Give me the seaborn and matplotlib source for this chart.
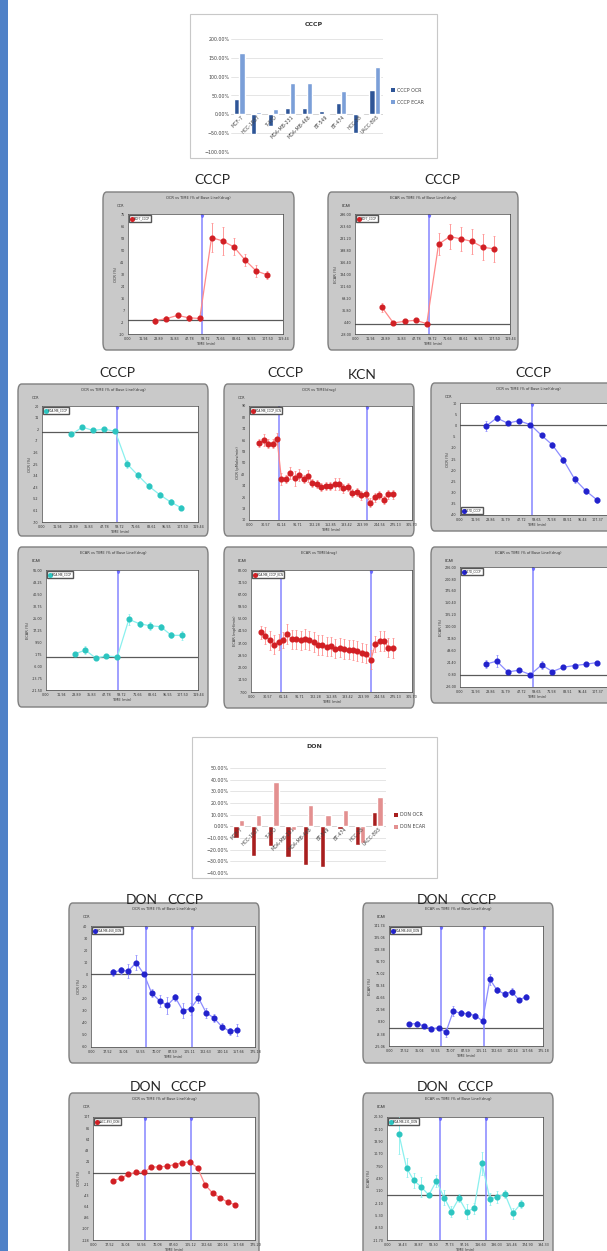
import numpy as np
import pandas as pd
import matplotlib
matplotlib.use("Agg")
import matplotlib.pyplot as plt
import seaborn as sns
from matplotlib.patches import FancyBboxPatch, Rectangle
from matplotlib.lines import Line2D
from matplotlib.ticker import PercentFormatter, FormatStrFormatter

# ---------------- data ----------------
cell_lines = ["MCF-7", "HCC-1937", "T-47D", "MDA-MB-231", "MDA-MB-468",
              "BT-549", "BT-474", "HCC-38", "UACC-893"]
cccp_ocr = [40, -53, -30, 17, 17, 8, 30, -50, 65]
cccp_ecar = [162, 5, 13, 83, 83, -3, 62, -2, 125]
don_ocr = [-10, -25, -17, -26, -33, -35, -2, -16, 12]
don_ecar = [5, 10, 38, -3, 18, 10, 14, -14, 25]

# MCF7 + CCCP
mcf7_t = [20.8, 29.6, 38.2, 46.7, 55.3, 64.4, 73.0, 81.6, 90.1, 98.7, 107.3]
mcf7_ocr = [-0.6, 0.9, 3.2, 1.5, 1.0, 58.3, 55.9, 51.7, 42.5, 34.7, 31.9]
mcf7_ocr_err = [2, 1.5, 2, 2, 1.5, 10, 10, 6, 4, 4, 3]
mcf7_ecar = [44, 1.8, 6.3, 9, 0, 214.5, 235, 229, 222, 206, 202]
mcf7_ecar_err = [12, 3, 3, 4, 3, 30, 33, 33, 33, 35, 35]

# MDA-MB + CCCP
mda_t = [22.5, 30.9, 39.1, 47.5, 56.1, 65.1, 73.5, 81.7, 90.1, 98.5, 106.7]
mda_ocr = [-2.1, 3.6, 1.0, 2.1, 0.3, -24.9, -33.8, -42.1, -48.8, -54.5, -59.0]
mda_ocr_err = [1.5, 1.5, 1, 1, 1, 3, 2.5, 2, 2, 2.5, 2]
mda_ecar = [1.7, 4.3, -0.9, 0.4, 0, 24.1, 21.3, 20.0, 19.4, 13.8, 13.8]
mda_ecar_err = [1.5, 2.5, 1, 1, 1, 3.5, 2, 2.5, 2, 2, 3]

# CCCP then KCN (absolute rates)
kcn_t = [19.1, 27.4, 35.9, 44.2, 52.5, 60.8, 69.1, 77.4, 85.7, 94.0, 102.3,
         110.6, 118.9, 127.2, 135.5, 143.8, 152.1, 160.4, 168.7, 177.0, 185.3,
         193.6, 201.9, 210.2, 218.5, 227.8, 236.1, 244.4, 252.7, 261.0, 269.3]
kcn_ocr = [64.1, 66.0, 63.6, 63.6, 67.1, 38.9, 38.7, 43.1, 39.2, 41.5, 38.9,
           41.0, 36.1, 35.2, 33.3, 34.0, 33.8, 35.2, 35.4, 32.2, 33.1,
           28.9, 29.6, 27.3, 28.2, 22.1, 25.9, 27.5, 24.0, 28.0, 28.0]
kcn_ocr_err = [3, 4, 3, 3, 4, 4, 3, 4, 5, 4, 3, 4, 3, 3, 3, 3, 3, 4, 4, 3, 3,
               3, 3, 3, 3, 3, 3, 3, 3, 3, 3]
kcn_ecar = [43.6, 41.7, 38.8, 36.2, 37.8, 38.8, 42.5, 39.3, 39.3, 38.8, 39.5,
            38.8, 37.8, 35.8, 35.8, 34.9, 35.1, 33.7, 34.3, 33.3, 33.1,
            32.7, 32.1, 31.2, 30.6, 26.9, 36.4, 38.2, 38.4, 34.3, 34.1]
kcn_ecar_err = [4, 5, 6, 6, 5, 5, 6, 6, 6, 6, 6, 6, 6, 6, 6, 6, 6, 6, 6, 6, 6,
                6, 6, 6, 6, 6, 5, 6, 6, 6, 6]

# T-47D + CCCP
t47_t = [20.0, 28.6, 37.2, 46.0, 54.9, 63.7, 72.0, 80.6, 89.4, 98.3, 106.9]
t47_ocr = [-0.45, 3.3, 1.0, 2.1, 0.3, -4.5, -8.7, -15.4, -24.0, -29.3, -33.3]
t47_ocr_err = [2.2, 1.5, 1, 0.8, 0.5, 1.2, 1.5, 1.5, 1.5, 1.5, 1.2]
t47_ecar = [21.9, 28.3, 5.7, 9.2, 0, 20.5, 6.4, 15.5, 19.1, 21.9, 25.4]
t47_ecar_err = [8, 12, 5, 4, 3, 8, 4, 4, 3, 3, 4]

# DON then CCCP
don_t = [23.2, 31.9, 39.8, 48.2, 56.7, 64.7, 73.2, 81.4, 89.9, 98.2, 106.4,
         114.8, 123.0, 131.5, 139.6, 148.0, 156.1]
don_a = [1.7, 3.3, 2.8, 9.7, 0, -15.3, -21.7, -25.6, -18.9, -30.0, -28.3,
         -19.4, -31.7, -36.1, -43.1, -46.9, -46.1]
don_a_err = [3, 3, 6, 6, 1, 3, 5, 7, 3, 6, 5, 4, 4, 3, 3, 3, 5]
don_b = [5.6, 6.0, 2.8, -0.9, 0, -6.0, 23.6, 20.4, 19.9, 17.1, 9.7,
         67.6, 52.4, 47.3, 50.5, 38.9, 43.6]
don_b_err = [3, 3, 3, 3, 3, 6, 7, 4, 4, 4, 4, 8, 4, 4, 5, 3, 4]

don_c_t = [21.2, 30.3, 38.3, 46.7, 54.8, 63.1, 71.5, 79.6, 88.3, 96.7, 104.8,
           113.2, 121.2, 129.6, 137.6, 146.0, 154.0]
don_c = [-14.7, -10.4, -2.4, 1.2, 1.2, 11.0, 11.6, 12.8, 15.9, 19.6, 21.4,
         9.2, -22.6, -39.1, -47.7, -56.2, -61.1]
don_c_err = [3, 3, 3, 3, 2, 3, 3, 3, 3, 3, 4, 3, 3, 3, 3, 3, 3]
don_d_t = [14.9, 24.3, 33.3, 42.7, 52.1, 61.5, 71.3, 80.3, 89.7, 99.1, 108.5,
           118.3, 128.1, 137.5, 146.9, 156.7, 166.5]
don_d = [15.8, 7.1, 3.8, 2.1, 0, 3.6, -0.7, -4.3, -0.8, -4.3, -3.5,
         8.3, -1.0, -0.5, 0.25, -4.75, -2.3]
don_d_err = [5, 2.5, 2, 2.5, 0.5, 1.5, 2, 1.5, 1, 2, 1.5, 3, 1.5, 1.5, 1, 1.5, 1]

# ---------------- figure ----------------
W, H = 607, 1251
sns.set_theme(style="white")
plt.rcParams["font.family"] = ["DejaVu Sans"]
fig = plt.figure(figsize=(W / 100, H / 100), dpi=100)
fig.patch.set_facecolor("white")


def rect(x0, y0, x1, y1):
    return [x0 / W, 1 - y1 / H, (x1 - x0) / W, (y1 - y0) / H]


def ftext(x, y, s, **kw):
    fig.text(x / W, 1 - y / H, s, **kw)


# blue strip on the left edge
fig.patches.append(Rectangle((0, 0), 8 / W, 1, transform=fig.transFigure,
                             fc="#4f81c7", ec="none", zorder=-1))


def bar_chart(box, inner, title, ocr, ecar, names, colors, ylim, step, title_y, leg_y):
    x0, y0, x1, y1 = box
    fig.patches.append(Rectangle((x0 / W, 1 - y1 / H), (x1 - x0) / W, (y1 - y0) / H,
                                 transform=fig.transFigure, fc="white",
                                 ec="#c8c8c8", lw=0.8, zorder=-1))
    ax = fig.add_axes(rect(*inner))
    ax.set_zorder(2)
    ax.patch.set_alpha(0)
    df = pd.DataFrame({"line": cell_lines * 2, "val": ocr + ecar,
                       "serie": [names[0]] * len(ocr) + [names[1]] * len(ecar)})
    sns.barplot(data=df, x="line", y="val", hue="serie", palette=colors,
                width=0.6, saturation=1, ax=ax, legend=False)
    ax.set_ylim(ylim)
    ax.set_yticks(np.arange(ylim[0], ylim[1] + 0.1, step))
    ax.yaxis.set_major_formatter(PercentFormatter(decimals=2))
    ax.grid(axis="y", color="#dadada", lw=0.5)
    ax.set_axisbelow(True)
    for s in ax.spines.values():
        s.set_visible(False)
    ax.axhline(0, color="#bdbdbd", lw=0.6, zorder=0.5)
    ax.tick_params(axis="y", labelsize=3.4, length=0, pad=1, colors="#444")
    ax.set_xticks([])
    ax.set_xlabel("")
    ax.set_ylabel("")
    for i, lab in enumerate(cell_lines):
        ax.text(i + 0.1, 0, lab, rotation=45, ha="right", va="top",
                rotation_mode="anchor", fontsize=3.4, color="#444")
    ftext((x0 + x1) / 2, title_y, title, ha="center", va="center",
          fontsize=4.5, fontweight="bold", color="#333")
    for k, (nm, c) in enumerate(zip(names, colors)):
        fig.patches.append(Rectangle(((inner[2] + 8) / W, 1 - (leg_y + 12 * k + 2) / H),
                                     4 / W, 4 / H, transform=fig.transFigure,
                                     fc=c, ec="none"))
        ftext(inner[2] + 14, leg_y + 12 * k, nm, ha="left", va="center",
              fontsize=3.4, color="#444")


def panel(box, inner, title, ylab, short, t, y, err, mk, ln, leg, leg_loc,
          xmax, ylim, vlines, yfmt="%.2f", nticks=11):
    x0, y0, x1, y1 = box
    fig.patches.append(FancyBboxPatch((x0 / W, 1 - y1 / H), (x1 - x0) / W, (y1 - y0) / H,
                                      boxstyle="round,pad=0,rounding_size=0.006",
                                      transform=fig.transFigure, fc="#c9c9c9",
                                      ec="#7f7f7f", lw=1.0, zorder=-1))
    ftext((x0 + x1) / 2, y0 + 6, title, ha="center", va="center",
          fontsize=2.6, color="#333")
    ftext(x0 + 14, y0 + 14, short, ha="left", va="center", fontsize=2.4,
          color="#333")
    ax = fig.add_axes(rect(*inner))
    ax.set_zorder(2)
    ax.set_facecolor("white")
    ax.axhline(0, color="#5a5a5a", lw=0.9, zorder=1)
    for v in vlines:
        ax.axvline(v, color="#8585ff", lw=1.1, zorder=1)
        ax.plot(v, ylim[1] - (ylim[1] - ylim[0]) * 0.02, marker="v", ms=1.6,
                color="#6a6aff", zorder=1)
    sns.lineplot(x=t, y=y, color=ln, lw=0.9, ax=ax, zorder=2)
    ax.errorbar(t, y, yerr=err, fmt="o", ms=3.4, mfc=mk, mec=mk, ecolor=ln,
                elinewidth=0.6, capsize=1.0, capthick=0.5, zorder=3)
    ax.set_xlim(0, xmax)
    ax.set_ylim(ylim)
    xt = np.linspace(0, xmax, 11)
    # the rightmost panels are cut by the picture edge
    fig_right = (W - inner[0]) / (inner[2] - inner[0]) * xmax
    ax.set_xticks(xt[xt <= fig_right - 0.05 * xmax])
    ax.set_yticks(np.linspace(ylim[0], ylim[1], nticks))
    ax.xaxis.set_major_formatter(FormatStrFormatter("%.2f"))
    ax.yaxis.set_major_formatter(FormatStrFormatter(yfmt))
    ax.tick_params(labelsize=2.4, length=1.5, width=0.4, pad=1, colors="#333")
    for s in ax.spines.values():
        s.set_color("#444")
        s.set_linewidth(0.5)
    ax.set_xlabel("TIME (min)", fontsize=2.6, labelpad=0.5, color="#333")
    ax.set_ylabel(ylab, fontsize=2.6, labelpad=1, color="#333")
    h = Line2D([], [], marker="o", ls="", color=mk, ms=2.6)
    ax.legend(handles=[h], labels=[leg], loc=leg_loc, fontsize=2.0,
              frameon=True, fancybox=False, edgecolor="#555", framealpha=1,
              handletextpad=0.2, borderpad=0.4, handlelength=0.8)
    return ax


RED, RED_L = "#d11f24", "#ff8a8a"
CYAN, CYAN_L = "#2cc5c0", "#8af0ee"
BLUE, BLUE_L = "#2222cc", "#8c8cff"
T_PCT_OCR = "OCR vs TIME (% of Base Line)(drug)"
T_PCT_ECAR = "ECAR vs TIME (% of Base Line)(drug)"

# ---- top bar chart (CCCP) ----
bar_chart((190, 14, 437, 158), (231, 39, 383, 152), "CCCP", cccp_ocr, cccp_ecar,
          ["CCCP OCR", "CCCP ECAR"], ["#2e5597", "#7b9fd8"], (-100, 200), 50, 25, 90)

# ---- MCF7 pair ----
lab_kw = dict(ha="center", va="center", fontsize=10, family=["Lato", "DejaVu Sans"])
ftext(212, 180, "CCCP", **lab_kw)
ftext(442, 180, "CCCP", **lab_kw)
panel((103, 192, 294, 350), (128, 214, 283, 334), T_PCT_OCR, "OCR (%)", "OCR",
      mcf7_t, mcf7_ocr, mcf7_ocr_err, RED, RED_L, "MCF7_CCCP", "upper left",
      119.44, (-10, 75), [57.1], "%.0f")
panel((328, 192, 518, 350), (355, 214, 510, 334), T_PCT_ECAR, "ECAR (%)", "ECAR",
      mcf7_t, mcf7_ecar, mcf7_ecar_err, RED, RED_L, "MCF7_CCCP", "upper left",
      119.44, (-28, 296), [57.1])

# ---- row of three ----
ftext(117, 373, "CCCP", **lab_kw)
ftext(285, 373, "CCCP", **lab_kw)
ftext(362, 375, "KCN", **lab_kw)
ftext(533, 373, "CCCP", **lab_kw)
panel((18, 384, 208, 536), (42, 406, 198, 522), T_PCT_OCR, "OCR (%)", "OCR",
      mda_t, mda_ocr, mda_ocr_err, CYAN, CYAN_L, "MDA-MB_CCCP", "upper left",
      119.44, (-70, 20), [57.7], "%.0f")
panel((224, 384, 414, 536), (249, 406, 412, 520), "OCR vs TIME(drug)",
      "OCR (pMoles/min)", "OCR", kcn_t, kcn_ocr, kcn_ocr_err, RED, RED_L,
      "MDA-MB_CCCP_KCN", "upper left", 305.7, (10, 90), [55.5, 220.8], "%.0f")
panel((431, 383, 625, 531), (460, 403, 613, 515), T_PCT_OCR, "OCR (%)", "OCR",
      t47_t, t47_ocr, t47_ocr_err, BLUE, BLUE_L, "T-47D_CCCP", "lower left",
      119.3, (-40, 10), [56.4], "%.0f")

panel((18, 547, 208, 707), (46, 570, 198, 690), T_PCT_ECAR, "ECAR (%)", "ECAR",
      mda_t, mda_ecar, mda_ecar_err, CYAN, CYAN_L, "MDA-MB_CCCP", "upper left",
      119.44, (-21.5, 56), [56.6])
panel((224, 547, 414, 708), (251, 570, 412, 692), "ECAR vs TIME(drug)",
      "ECAR (mpH/min)", "ECAR", kcn_t, kcn_ecar, kcn_ecar_err, RED, RED_L,
      "MDA-MB_CCCP_KCN", "upper left", 305.7, (7, 82), [57.6, 228.5])
panel((431, 547, 625, 703), (460, 567, 613, 687), T_PCT_ECAR, "ECAR (%)", "ECAR",
      t47_t, t47_ecar, t47_ecar_err, BLUE, BLUE_L, "T-47D_CCCP", "upper left",
      119.3, (-26, 226), [57.2])

# ---- DON bar chart ----
bar_chart((192, 737, 437, 878), (230, 768, 386, 873), "DON", don_ocr, don_ecar,
          ["DON OCR", "DON ECAR"], ["#a81e1e", "#e39090"], (-40, 50), 10, 747, 815)

# ---- DON then CCCP panels ----
ftext(142, 900, "DON", **lab_kw)
ftext(185, 900, "CCCP", **lab_kw)
ftext(433, 900, "DON", **lab_kw)
ftext(478, 900, "CCCP", **lab_kw)
ftext(146, 1087, "DON", **lab_kw)
ftext(188, 1087, "CCCP", **lab_kw)
ftext(433, 1087, "DON", **lab_kw)
ftext(475, 1087, "CCCP", **lab_kw)
panel((69, 903, 259, 1063), (91, 926, 255, 1047), T_PCT_OCR, "OCR (%)", "OCR",
      don_t, don_a, don_a_err, BLUE, BLUE_L, "MDA-MB-468_DON", "upper left",
      175.18, (-60, 40), [58.6, 108.3], "%.0f")
panel((363, 903, 553, 1063), (389, 926, 543, 1046), T_PCT_ECAR, "ECAR (%)", "ECAR",
      don_t, don_b, don_b_err, BLUE, BLUE_L, "MDA-MB-468_DON", "upper left",
      175.18, (-25.06, 141.74), [58.6, 108.3])
panel((69, 1093, 259, 1275), (93, 1117, 255, 1240), T_PCT_OCR, "OCR (%)", "OCR",
      don_c_t, don_c, don_c_err, RED, RED_L, "UACC-893_DON", "upper left",
      175.2, (-128.4, 107.0), [56.6, 105.9], "%.0f", 12)
panel((363, 1093, 553, 1275), (387, 1117, 543, 1240), T_PCT_ECAR, "ECAR (%)", "ECAR",
      don_d_t, don_d, don_d_err, CYAN, CYAN_L, "MDA-MB-231_DON", "upper left",
      194.33, (-11.7, 20.3), [66.2, 123.8])

fig.savefig("out.png", dpi=100)
